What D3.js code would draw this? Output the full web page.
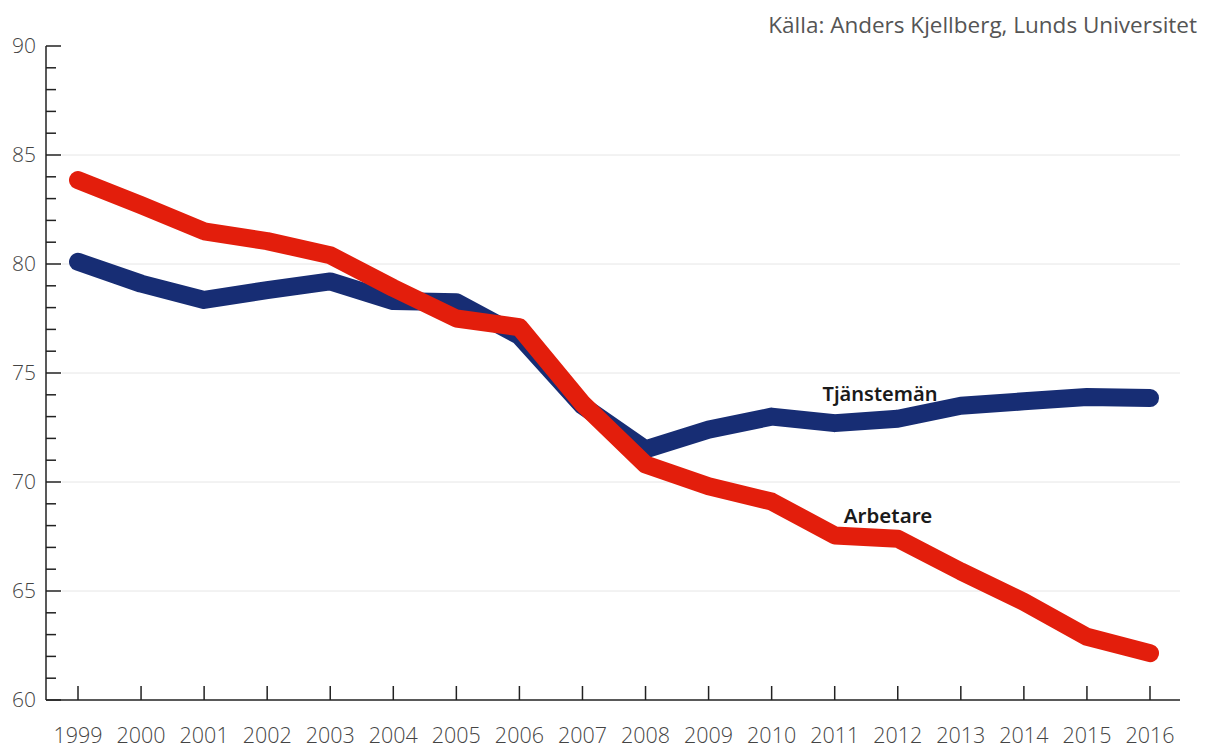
<!DOCTYPE html>
<html><head><meta charset="utf-8">
<script src="https://cdn.jsdelivr.net/npm/d3@7"></script>
<style>
body{margin:0;background:#fff;}
svg{display:block;}
</style></head>
<body>
<svg id="c" width="1210" height="749"></svg>
<script>
const years = [1999,2000,2001,2002,2003,2004,2005,2006,2007,2008,2009,2010,2011,2012,2013,2014,2015,2016];
const tjanstemanValues = [80.1,79.1,78.35,78.8,79.2,78.3,78.25,76.7,73.5,71.5,72.4,73.0,72.7,72.9,73.5,73.7,73.9,73.85];
const arbetareValues = [83.85,82.7,81.5,81.05,80.4,78.9,77.5,77.1,73.6,70.8,69.8,69.1,67.55,67.4,65.9,64.5,62.9,62.15];
const yMajorTicks = [60,65,70,75,80,85,90];
const yMinorTicks = d3.range(60,91,1);

const svg = d3.select("#c");
const x = d3.scaleLinear().domain([1999,2016]).range([78,1150]);
const y = d3.scaleLinear().domain([60,90]).range([700,46]);

// gridlines
svg.append("g").selectAll("line").data(yMajorTicks.filter(v=>v>60&&v<90)).join("line")
  .attr("x1",62).attr("x2",1180).attr("y1",d=>y(d)).attr("y2",d=>y(d))
  .attr("stroke","#e6e6e6").attr("stroke-width",1);

// y axis
const yAxisG = svg.append("g");
yAxisG.append("line").attr("x1",46).attr("x2",46).attr("y1",y(90)).attr("y2",y(60)).attr("stroke","#222").attr("stroke-width",1.5);
yAxisG.selectAll("line.minor").data(yMinorTicks).join("line").attr("class","minor")
  .attr("x1",46).attr("x2",d=>d%5===0?61:56).attr("y1",d=>y(d)).attr("y2",d=>y(d))
  .attr("stroke","#222").attr("stroke-width",1.5);
yAxisG.selectAll("text").data(yMajorTicks).join("text")
  .attr("x",36).attr("y",d=>y(d)+7).attr("text-anchor","end")
  .attr("font-family","Open Sans").attr("font-weight",300).attr("font-size",21).attr("fill","#444")
  .text(d=>d);

// x axis
const xAxisG = svg.append("g");
xAxisG.append("line").attr("x1",46).attr("x2",1180).attr("y1",700).attr("y2",700).attr("stroke","#222").attr("stroke-width",1.5);
xAxisG.selectAll("line.t").data(years).join("line").attr("class","t")
  .attr("x1",d=>x(d)).attr("x2",d=>x(d)).attr("y1",700).attr("y2",686)
  .attr("stroke","#222").attr("stroke-width",1.5);
xAxisG.selectAll("text").data(years).join("text")
  .attr("x",d=>x(d)).attr("y",743).attr("text-anchor","middle")
  .attr("font-family","Open Sans").attr("font-weight",300).attr("font-size",21.5).attr("fill","#444")
  .text(d=>d);

const line = d3.line().x((d,i)=>x(years[i])).y(d=>y(d));
svg.append("path").datum(tjanstemanValues).attr("d",line)
  .attr("fill","none").attr("stroke","#172d74").attr("stroke-width",18)
  .attr("stroke-linecap","round").attr("stroke-linejoin","round");
svg.append("path").datum(arbetareValues).attr("d",line)
  .attr("fill","none").attr("stroke","#e31e0c").attr("stroke-width",18)
  .attr("stroke-linecap","round").attr("stroke-linejoin","round");

svg.append("text").attr("x",880).attr("y",401).attr("text-anchor","middle")
  .attr("font-family","Noto Sans").attr("font-weight",600).attr("font-size",20).attr("fill","#1a1a1a")
  .text("Tjänstemän");
svg.append("text").attr("x",888).attr("y",523).attr("text-anchor","middle")
  .attr("font-family","Noto Sans").attr("font-weight",600).attr("font-size",20.5).attr("fill","#1a1a1a")
  .text("Arbetare");

svg.append("text").attr("x",1197).attr("y",33).attr("text-anchor","end")
  .attr("font-family","Open Sans").attr("font-weight",400).attr("font-size",22.5).attr("fill","#555")
  .text("Källa: Anders Kjellberg, Lunds Universitet");
</script>
</body></html>
